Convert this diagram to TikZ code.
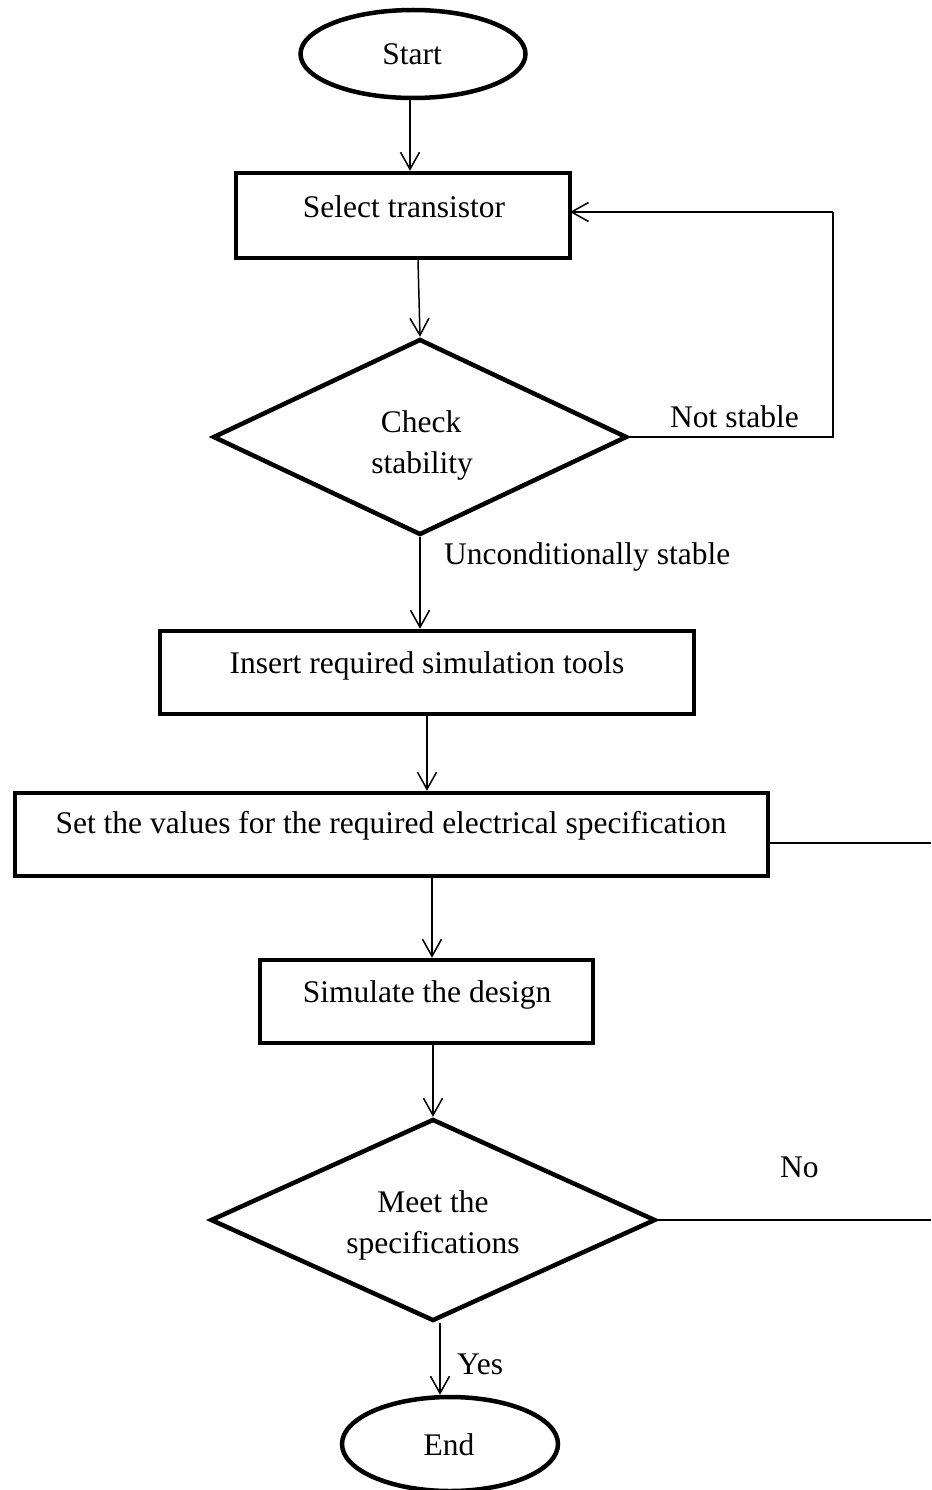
\documentclass[tikz,border=0pt]{standalone}
\usepackage{fontspec}
\setmainfont{Liberation Serif}
\usetikzlibrary{shapes.geometric,arrows.meta}
\tikzset{
  box/.style={draw, line width=4.5pt, rectangle, inner sep=0pt},
  term/.style={draw, line width=4.5pt, ellipse, inner sep=0pt},
  decide/.style={draw, line width=4.5pt, diamond, inner sep=0pt},
  txt/.style={anchor=base, inner sep=0pt, font=\fontsize{31.5}{36}\selectfont},
  lbl/.style={anchor=base west, inner sep=0pt, font=\fontsize{31.5}{36}\selectfont},
  arr/.style={line width=1.5pt, -{Straight Barb[length=17pt,width=19pt,line width=1.5pt]}},
  wire/.style={line width=1.5pt}
}
\begin{document}
\begin{tikzpicture}[x=1pt,y=-1pt]
\useasboundingbox (0,0) rectangle (931,1490);
% shapes
\node[term, minimum width=225, minimum height=88] (start) at (413,54) {};
\node[txt] (tstart) at (412,65) {Start};
\node[box, minimum width=334, minimum height=85] (sel) at (403,215.5) {};
\node[txt] (tsel) at (404,217) {Select transistor};
\node[decide, minimum width=414, minimum height=196] (chk) at (420,437) {};
\node[txt] (tchk1) at (421,432) {Check};
\node[txt] (tchk2) at (422,473) {stability};
\node[box, minimum width=534, minimum height=83] (ins) at (427,672.5) {};
\node[txt] (tins) at (427,673) {Insert required simulation tools};
\node[box, minimum width=753, minimum height=83] (set) at (391.5,834.5) {};
\node[txt] (tset) at (391,833) {Set the values for the required electrical specification};
\node[box, minimum width=333, minimum height=83] (sim) at (426.5,1001.5) {};
\node[txt] (tsim) at (427,1002) {Simulate the design};
\node[decide, minimum width=445, minimum height=202] (meet) at (433,1220) {};
\node[txt] (tmeet1) at (433,1212) {Meet the};
\node[txt] (tmeet2) at (433,1253) {specifications};
\node[term, minimum width=216, minimum height=94] (end) at (450,1444) {};
\node[txt] (tend) at (449,1455) {End};
% labels
\node[lbl] (lns) at (670,427) {Not stable};
\node[lbl] (lus) at (444,564) {Unconditionally stable};
\node[lbl] (lno) at (780,1177) {No};
\node[lbl] (lyes) at (457,1374) {Yes};
% coordinates
\coordinate (fbA) at (833,437);
\coordinate (fbB) at (833,212);
\coordinate (fbC) at (570,212);
\coordinate (outA) at (931,843);
\coordinate (outB) at (931,1220);
% connectors
\draw[arr] (start.south -| 410,0) -- (sel.north -| 410,0);
\draw[arr] (sel.south -| 418,0) -- (chk.north);
\draw[arr] (chk.south) -- (chk.south |- ins.north);
\draw[arr] (ins.south) -- (set.north -| ins.south);
\draw[arr] (set.south -| 432,0) -- (sim.north -| 432,0);
\draw[arr] (sim.south -| 433,0) -- (meet.north);
\draw[arr] (meet.south -| 440,0) -- (end.north -| 440,0);
\draw[wire] (chk.east) -- (fbA) -- (fbB);
\draw[arr] (fbB) -- (fbC);
\draw[wire] (outA -| set.east) -- (outA);
\draw[wire] (meet.east) -- (outB);
\end{tikzpicture}
\end{document}
